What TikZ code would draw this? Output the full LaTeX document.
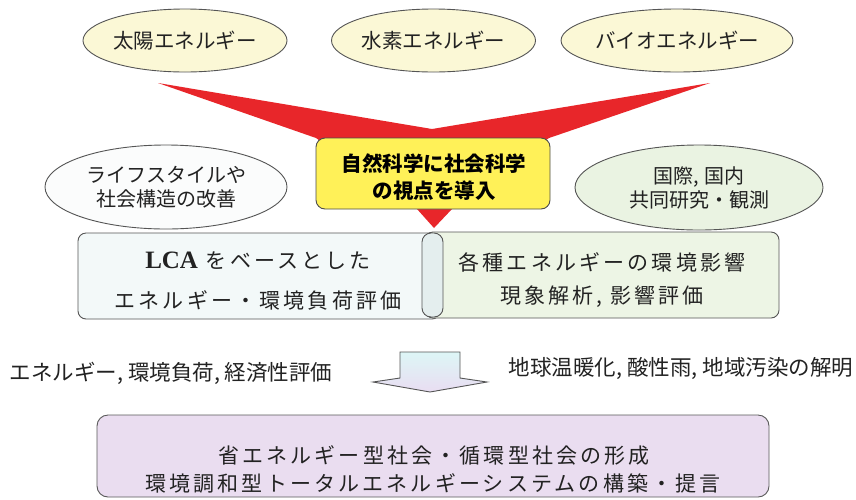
\documentclass[tikz,border=0pt]{standalone}
\usepackage{fontspec}
\newfontfamily\jp{Noto Sans CJK JP}
\newfontfamily\jpsp[LetterSpace=15]{Noto Sans CJK JP}
\newfontfamily\serifb{Liberation Serif}
\usetikzlibrary{shapes.geometric}
\definecolor{ellY}{HTML}{FBF8D6}
\definecolor{ellW}{HTML}{FBFCFC}
\definecolor{ellG}{HTML}{EAF3E2}
\definecolor{redA}{HTML}{E8262A}
\definecolor{yelA}{HTML}{FFF158}
\definecolor{boxB}{HTML}{F3F9F9}
\definecolor{boxG}{HTML}{EDF5E5}
\definecolor{pillC}{HTML}{E4EEEE}
\definecolor{boxP}{HTML}{EADDF0}
\definecolor{arrT}{HTML}{DDF6F6}
\definecolor{arrB}{HTML}{E9DDF2}
\definecolor{lineC}{HTML}{555555}
\definecolor{txtC}{HTML}{222222}
\begin{document}
\begin{tikzpicture}[x=1pt,y=-1pt,
  ellbase/.style={ellipse,draw=lineC,line width=0.9pt,inner sep=0pt,text=txtC},
  topell/.style={ellbase,fill=ellY,minimum width=204pt,minimum height=63pt,font=\jp\fontsize{20.5pt}{24pt}\selectfont},
  midell/.style={ellbase,minimum width=242pt,minimum height=84pt,align=center,font=\jp\fontsize{20pt}{24pt}\selectfont},
  boxbase/.style={rectangle,draw=lineC,line width=0.9pt,inner sep=0pt},
  txt/.style={inner sep=0pt,text=txtC,align=center},
  bigtxt/.style={txt,font=\jpsp\fontsize{21pt}{24pt}\selectfont}
]
\useasboundingbox (0,0) rectangle (856,499);
\fill[white] (0,0) rectangle (856,499);

% top ellipses
\node[topell] (sun) at (185,40.5) {太陽エネルギー};
\node[topell] (hyd) at (433.5,40.5) {水素エネルギー};
\node[topell] (bio) at (677,40.5) {バイオエネルギー};

% red funnel arrow
\fill[redA] (158,83) -- (432,129) -- (710,83) -- (549,138) -- (452,209)
  -- (434,228) -- (417,209) -- (316,138) -- cycle;

% yellow box
\node[boxbase,fill=yelA,rounded corners=9pt,minimum width=234pt,minimum height=71pt,draw=black!70]
  (nat) at (433,173.5) {};
\node[txt,font=\jp\bfseries\fontsize{20.5pt}{27pt}\selectfont,text=black] (natT) at (434,177)
  {自然科学に社会科学\\の視点を導入};

% middle ellipses
\node[midell,fill=ellW] (life) at (166,187) {ライフスタイルや\\社会構造の改善};
\node[midell,fill=ellG,minimum width=248pt,minimum height=85pt] (intl) at (699,187.5) {国際, 国内\\共同研究・観測};

% LCA boxes
\node[boxbase,fill=boxB,rounded corners=8pt,minimum width=362pt,minimum height=86pt] (lca) at (259,276) {};
\node[boxbase,fill=boxG,rounded corners=8pt,minimum width=354pt,minimum height=86pt] (env) at (602,275) {};
\node[boxbase,fill=pillC,rounded corners=9pt,minimum width=21pt,minimum height=84pt] (pill) at (432.5,275) {};
\node[bigtxt] (lcaT1) at (258,261) {{\serifb\bfseries\fontsize{25pt}{24pt}\selectfont LCA} をベースとした};
\node[bigtxt] (lcaT2) at (258,300) {エネルギー・環境負荷評価};
\node[bigtxt] (envT1) at (602,262) {各種エネルギーの環境影響};
\node[bigtxt] (envT2) at (602,297) {現象解析, 影響評価};

% side texts
\node[txt,font=\jp\fontsize{21.5pt}{24pt}\selectfont] (ecoT) at (171,373) {エネルギー, 環境負荷, 経済性評価};
\node[txt,font=\jp\fontsize{21.5pt}{24pt}\selectfont] (glbT) at (681,368) {地球温暖化, 酸性雨, 地域汚染の解明};

% down block arrow
\shade[top color=arrT,bottom color=arrB,draw=lineC,line width=0.9pt]
  (400,352) -- (460,352) -- (460,378) -- (487,382) -- (430,392) -- (373,382) -- (400,378) -- cycle;

% bottom box
\node[boxbase,fill=boxP,draw=black!65,rounded corners=11pt,minimum width=672pt,minimum height=82pt] (goal) at (433,456) {};
\node[bigtxt] (goalT1) at (434,455) {省エネルギー型社会・循環型社会の形成};
\node[bigtxt] (goalT2) at (433,483) {環境調和型トータルエネルギーシステムの構築・提言};
\end{tikzpicture}
\end{document}
